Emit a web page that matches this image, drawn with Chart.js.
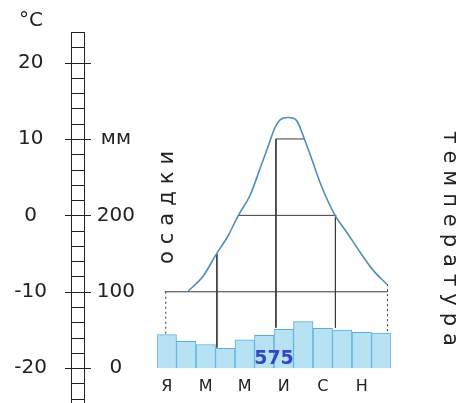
<!DOCTYPE html>
<html>
<head>
<meta charset="utf-8">
<script src="https://cdn.jsdelivr.net/npm/chart.js@4"></script>
<style>html,body{margin:0;padding:0;background:#fff}</style>
</head>
<body>
<canvas id="c" width="471" height="403"></canvas>
<script>
const months = ["Я", "Ф", "М", "А", "М", "И", "И", "А", "С", "О", "Н", "Д"];
const precipMm = [44, 35, 31, 26, 37, 43, 51, 61, 52, 50, 47, 46];
const precipTotal = "575";
const tempTicks = [-20, -10, 0, 10, 20];
const mmTicks = [0, 100, 200, 300];
const mmLabels = { 0: "0", 100: "100", 200: "200", 300: "мм" };

// temperature curve: position in months (0..12), °C
const tempMonth = [1.61, 2.38, 3.06, 3.66, 4.17, 4.77, 5.28, 5.71, 6.05, 6.31, 6.73, 7.16, 7.53, 7.93, 8.36, 9.13, 9.73, 10.41, 11.09, 11.78];
const tempC = [-9.9, -7.9, -5.0, -2.6, 0, 2.6, 6.1, 9.1, 11.5, 12.5, 12.8, 12.4, 10.2, 7.4, 4.3, 0, -2.2, -4.8, -7.2, -9.0];

// construction lines of the diagram (months, °C)
const guideX = [[0.4, 11.85], [4.2, 9.2], [6.1, 7.55], [3.07, 3.07], [6.1, 6.1], [9.15, 9.15]];
const guideY = [[-10, -10], [0, 0], [10, 10], [-5.0, -17.3], [10, -14.7], [0, -14.7]];
const dottedX = [[0.45, 0.45], [11.82, 11.82]];
const dottedY = [[-10, -15.6], [-9, -15.2]];

Chart.defaults.font.family = "'DejaVu Sans', sans-serif";
Chart.defaults.color = "#222";

const segment = (xs, ys, dash) => ({
    type: "line",
    xAxisID: "xt",
    yAxisID: "y",
    data: xs.map((x, i) => ({ x, y: ys[i] })),
    borderColor: "#3a3a3a",
    borderWidth: 1,
    borderDash: dash || [],
    pointRadius: 0,
    order: 1,
});

const datasets = [
    {
        type: "bar",
        data: precipMm,
        xAxisID: "x",
        yAxisID: "y2",
        backgroundColor: "#b7e2f4",
        borderColor: "#5aaed8",
        borderWidth: 1,
        grouped: false,
        categoryPercentage: 1,
        barPercentage: 1,
        order: 3,
    },
    ...guideX.map((xs, i) => segment(xs, guideY[i])),
    ...dottedX.map((xs, i) => segment(xs, dottedY[i], [2, 3])),
    {
        type: "line",
        xAxisID: "xt",
        yAxisID: "y",
        data: tempMonth.map((x, i) => ({ x, y: tempC[i] })),
        borderColor: "#4f8fb4",
        borderWidth: 1.6,
        cubicInterpolationMode: "monotone",
        pointRadius: 0,
        order: 0,
    },
];

const decor = {
    id: "decor",
    afterDraw(chart) {
        const ctx = chart.ctx;
        const y = chart.scales.y;
        const xt = chart.scales.xt;
        ctx.save();

        // ruler on the left
        const l = 71, r = 84;
        ctx.strokeStyle = "#222";
        ctx.lineWidth = 1;
        const top = y.getPixelForValue(24), bot = y.getPixelForValue(-26);
        ctx.beginPath();
        ctx.moveTo(l + 0.5, top); ctx.lineTo(l + 0.5, bot);
        ctx.moveTo(r + 0.5, top); ctx.lineTo(r + 0.5, bot);
        for (let t = 24; t >= -26; t -= 2) {
            const py = Math.round(y.getPixelForValue(t)) + 0.5;
            if (t % 10 === 0) {
                ctx.moveTo(65, py); ctx.lineTo(91, py);
            } else {
                ctx.moveTo(l, py); ctx.lineTo(r + 1, py);
            }
        }
        ctx.stroke();

        ctx.fillStyle = "#222";
        ctx.textAlign = "center";
        ctx.textBaseline = "middle";
        ctx.font = "20px 'DejaVu Sans'";
        ctx.fillText("°C", 31, 21);

        // vertical captions
        ctx.font = "21px 'DejaVu Sans'";
        ctx.letterSpacing = "7px";
        ctx.save();
        ctx.translate(168, 207);
        ctx.rotate(-Math.PI / 2);
        ctx.fillText("осадки", 3, 0);
        ctx.restore();
        ctx.save();
        ctx.translate(449, 239);
        ctx.rotate(Math.PI / 2);
        ctx.fillText("температура", 3, 0);
        ctx.restore();
        ctx.letterSpacing = "0px";

        // annual precipitation
        ctx.font = "bold 19px 'DejaVu Sans'";
        ctx.fillStyle = "#3547c2";
        ctx.fillText(precipTotal, xt.getPixelForValue(6), y.getPixelForValue(-18.8));
        ctx.restore();
    },
};

new Chart(document.getElementById("c"), {
    type: "bar",
    data: { labels: months, datasets },
    options: {
        responsive: false,
        animation: false,
        devicePixelRatio: 1,
        layout: { padding: { top: 32, right: 80, left: 0, bottom: 0 } },
        datasets: { bar: { categoryPercentage: 1, barPercentage: 1 } },
        plugins: { legend: { display: false }, tooltip: { enabled: false } },
        scales: {
            x: {
                type: "category",
                grid: { display: false },
                border: { display: false },
                ticks: {
                    autoSkip: false,
                    maxRotation: 0,
                    padding: -3,
                    font: { size: 16 },
                    callback: (v, i) => (i % 2 === 0 ? months[i] : ""),
                },
                afterFit: (s) => { s.height = 31; },
            },
            xt: { type: "linear", display: false, offset: false, min: 0, max: 12 },
            y: {
                position: "left",
                weight: 2,
                min: -20.5,
                max: 24,
                grid: { display: false },
                border: { display: false },
                afterBuildTicks: (s) => { s.ticks = tempTicks.map((value) => ({ value })); },
                ticks: { crossAlign: "center", padding: 4, font: { size: 20 } },
                afterFit: (s) => { s.width = 59; },
            },
            y2: {
                position: "left",
                weight: 1,
                min: -5,
                max: 440,
                grid: { display: false },
                border: { display: false },
                afterBuildTicks: (s) => { s.ticks = mmTicks.map((value) => ({ value })); },
                ticks: {
                    crossAlign: "center",
                    padding: 14,
                    font: { size: 20 },
                    callback: (v) => mmLabels[v],
                },
                afterFit: (s) => { s.width = 98; },
            },
        },
    },
    plugins: [decor],
});
</script>
</body>
</html>
